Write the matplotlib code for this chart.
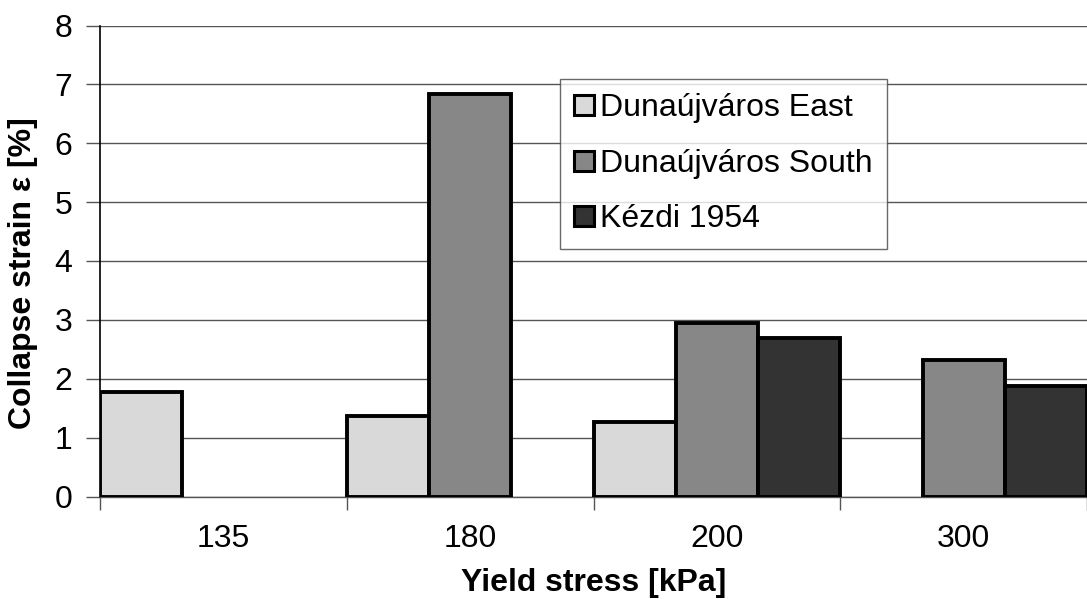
import matplotlib
matplotlib.use("Agg")
import matplotlib.pyplot as plt
import numpy as np

plt.rcParams['font.family'] = ['Liberation Sans', 'DejaVu Sans']

categories = ["135", "180", "200", "300"]
series_names = ["Dunaújváros East", "Dunaújváros South", "Kézdi 1954"]
east = [1.77, 1.37, 1.26, np.nan]
south = [np.nan, 6.83, 2.94, 2.32]
kezdi = [np.nan, np.nan, 2.70, 1.88]
colors = ["#d9d9d9", "#878787", "#333333"]

W, H = 1087, 599
fig = plt.figure(figsize=(W / 100, H / 100), dpi=100)
ax = fig.add_axes([100 / W, 1 - 496.5 / H, 1 - 100 / W, (496.5 - 25.5) / H])

x = np.arange(len(categories)) + 0.5
bw = 1 / 3
for i, (vals, name, c) in enumerate(zip([east, south, kezdi], series_names, colors)):
    ax.bar(x + (i - 1) * bw, vals, width=bw, color=c, edgecolor="black",
           linewidth=2.8, label=name, zorder=3)

ax.set_ylim(0, 8)
ax.set_xlim(0, (W - 100) / 249)
ax.set_yticks(range(0, 9))
ax.yaxis.grid(True, color="#555555", linewidth=1.0, zorder=0)
ax.set_axisbelow(True)

fs = 23
ax.set_xticks(np.arange(0, 5))
ax.set_xticklabels([])
ax.set_xticks(x, minor=True)
ax.set_xticklabels(categories, minor=True)
ax.tick_params(axis="x", which="minor", length=0, pad=20, labelsize=fs)
ax.tick_params(axis="x", which="major", length=9, width=1, color="#555555", direction="out")
ax.tick_params(axis="y", length=10, width=1, color="#555555", labelsize=fs, pad=10)

for s in ["top", "right"]:
    ax.spines[s].set_visible(False)
ax.spines["left"].set_color("black")
ax.spines["left"].set_linewidth(1.2)
ax.spines["bottom"].set_color("#555555")
ax.spines["bottom"].set_linewidth(1.0)

ax.set_xlabel("Yield stress [kPa]", fontsize=fs, fontweight="bold", va="center")
ax.set_ylabel("Collapse strain ε [%]", fontsize=fs, fontweight="bold", va="center")
ax.xaxis.set_label_coords(594 / W, 1 - 583 / H, transform=fig.transFigure)
ax.yaxis.set_label_coords(23 / W, 1 - 273 / H, transform=fig.transFigure)

leg = ax.legend(loc="upper left", bbox_to_anchor=(560 / W, 1 - 79 / H),
                bbox_transform=fig.transFigure, fontsize=fs, frameon=True,
                fancybox=False, edgecolor="#444444", handlelength=0.6,
                handleheight=0.6, handletextpad=0.2, labelspacing=0.8,
                borderpad=0.45, borderaxespad=0)
leg.get_frame().set_linewidth(1.0)
for h in leg.legend_handles:
    h.set_linewidth(2.2)

fig.savefig("out.png", dpi=100)
